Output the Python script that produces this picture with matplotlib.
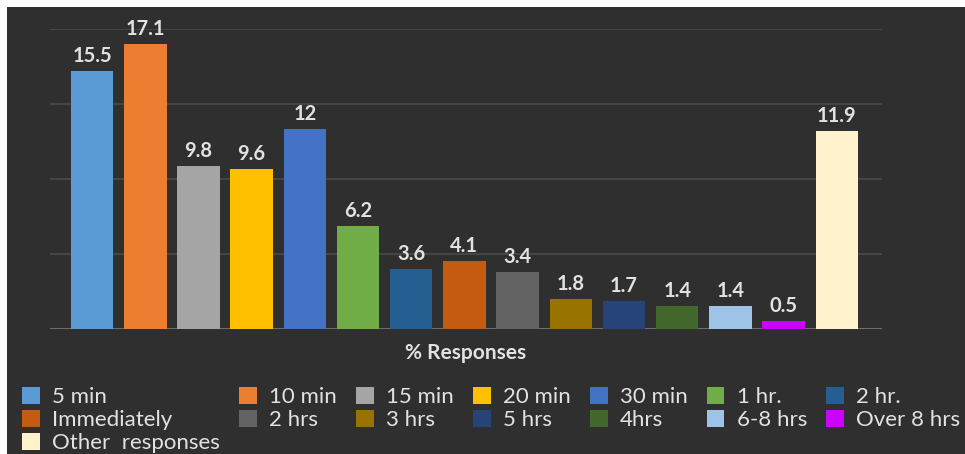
import numpy as np
import matplotlib.pyplot as plt
from matplotlib.patches import Rectangle, Patch

# bar data, in drawing order
categories = ['5 min', '10 min', '15 min', '20 min', '30 min', '1 hr.', '2 hr.',
              'Immediately', '2 hrs', '3 hrs', '5 hrs', '4hrs', '6-8 hrs',
              'Over 8 hrs', 'Other  responses']
values = [15.5, 17.1, 9.8, 9.6, 12, 6.2, 3.6, 4.1, 3.4, 1.8, 1.7, 1.4, 1.4, 0.5, 11.9]
value_labels = ['15.5', '17.1', '9.8', '9.6', '12', '6.2', '3.6', '4.1', '3.4',
                '1.8', '1.7', '1.4', '1.4', '0.5', '11.9']
colors = ['#5b9bd5', '#ed7d31', '#a5a5a5', '#ffc000', '#4472c4', '#70ad47', '#255e91',
          '#c55a11', '#636363', '#997300', '#264478', '#43682b', '#9dc3e6',
          '#cc00ff', '#fff2cc']

BG = '#2f2f2f'
TXT = '#e2e2e2'
plt.rcParams['font.family'] = ['Lato', 'DejaVu Sans']

fig = plt.figure(figsize=(9.65, 4.54), dpi=100, facecolor='white')
# dark panel with a thin white margin on the top and left edges
fig.patches.append(Rectangle((7 / 965, 0), 1, 1 - 7 / 454, transform=fig.transFigure,
                             facecolor=BG, edgecolor='none', zorder=-5))

ax = fig.add_axes([50 / 965, 1 - 329 / 454, 832 / 965, 300 / 454])
ax.set_facecolor('none')
ax.set_zorder(2)

x = np.arange(len(values))
bars = ax.bar(x, values, width=0.8, color=colors, zorder=3)
for xi, v, lab in zip(x, values, value_labels):
    ax.text(xi, v + 0.3, lab, ha='center', va='bottom', color=TXT,
            fontsize=14.5, fontweight='bold', zorder=4)

ax.set_xlim(-0.79, 14.85)
ax.set_ylim(0, 18)
ax.set_yticks([0, 4.5, 9, 13.5, 18])
ax.yaxis.grid(True, color='#4a4a4a', linewidth=1.2, zorder=0)
ax.set_axisbelow(True)
ax.axhline(0, color='#6e6e6e', linewidth=2.2, zorder=2)
ax.tick_params(left=False, bottom=False, labelleft=False, labelbottom=False)
for s in ax.spines.values():
    s.set_visible(False)

ax.set_xlabel('% Responses', color=TXT, fontsize=15, fontweight='bold', labelpad=10)

# legend is column-major: first column takes three entries, the rest two
handles = [Patch(facecolor=c, edgecolor='none', label=l) for c, l in zip(colors, categories)]
order = [0, 7, 14, 1, 8, 2, 9, 3, 10, 4, 11, 5, 12, 6, 13]
leg = ax.legend([handles[i] for i in order], [categories[i] for i in order],
                ncol=7, loc='upper left', bbox_to_anchor=(-0.044, -0.163),
                frameon=False, prop={'size': 16}, labelcolor=TXT,
                handlelength=0.8, handleheight=0.8, handletextpad=0.55,
                columnspacing=0.86, labelspacing=0.13, borderaxespad=0)

fig.savefig('out.png', dpi=100, facecolor=fig.get_facecolor())
